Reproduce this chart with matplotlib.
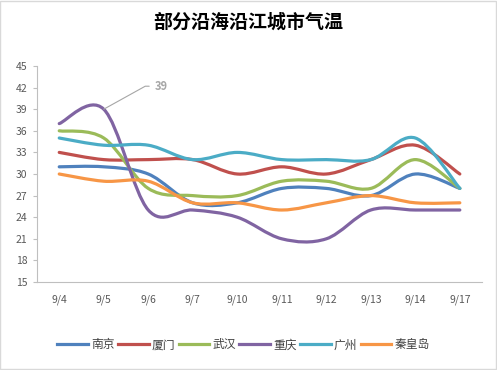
import matplotlib
matplotlib.use("Agg")
import matplotlib.pyplot as plt
from matplotlib.path import Path
from matplotlib.patches import PathPatch, Rectangle
from matplotlib.lines import Line2D
import numpy as np

plt.rcParams['font.family'] = ['Noto Sans CJK SC', 'DejaVu Sans']

dates = ["9/4", "9/5", "9/6", "9/7", "9/10", "9/11", "9/12", "9/13", "9/14", "9/17"]
nanjing = [31, 31, 30, 26, 26, 28, 28, 27, 30, 28]
xiamen = [33, 32, 32, 32, 30, 31, 30, 32, 34, 30]
wuhan = [36, 35, 28, 27, 27, 29, 29, 28, 32, 28]
chongqing = [37, 39, 25, 25, 24, 21, 21, 25, 25, 25]
guangzhou = [35, 34, 34, 32, 33, 32, 32, 32, 35, 28]
qinhuangdao = [30, 29, 29, 26, 26, 25, 26, 27, 26, 26]

cities = ["南京", "厦门", "武汉", "重庆", "广州", "秦皇岛"]
series = [nanjing, xiamen, wuhan, chongqing, guangzhou, qinhuangdao]
colors = ["#4F81BD", "#C0504D", "#9BBB59", "#8064A2", "#4BACC6", "#F79646"]


def smooth_path(xs, ys):
    # excel-like smoothed line as cubic bezier segments
    p = np.column_stack([xs, ys]).astype(float)
    n = len(p)
    verts = [p[0]]
    codes = [Path.MOVETO]
    for i in range(n - 1):
        p0 = p[i - 1] if i > 0 else p[i]
        p3 = p[i + 2] if i + 2 < n else p[i + 1]
        c1 = p[i] + (p[i + 1] - p0) / 6
        c2 = p[i + 1] - (p3 - p[i]) / 6
        verts += [c1, c2, p[i + 1]]
        codes += [Path.CURVE4] * 3
    return Path(verts, codes)


fig = plt.figure(figsize=(4.97, 3.70), dpi=100)
ax = fig.add_axes([0.0744, 0.2378, 0.8956, 0.5838])

x = np.arange(len(dates))
for vals, c in zip(series, colors):
    ax.add_patch(PathPatch(smooth_path(x, vals), facecolor="none", edgecolor=c,
                           lw=2.3, capstyle="round", joinstyle="round"))

ax.set_xlim(-0.5, len(dates) - 0.5)
ax.set_ylim(15, 45)
ax.set_yticks(range(15, 46, 3))
ax.set_xticks(x)
ax.set_xticklabels(dates)

for s in ["top", "right"]:
    ax.spines[s].set_visible(False)
for s in ["left", "bottom"]:
    ax.spines[s].set_color("#BFBFBF")
    ax.spines[s].set_linewidth(0.8)
ax.tick_params(axis="y", length=3, color="#BFBFBF", labelsize=7.5, labelcolor="#595959", pad=4)
ax.tick_params(axis="x", length=0, labelsize=7.5, labelcolor="#595959", pad=9)

ax.annotate("39", xy=(1, 39), xytext=(51, 23), textcoords="offset pixels",
            fontsize=8, fontweight="bold", color="#A6A6A6", va="center", ha="left",
            arrowprops=dict(arrowstyle="-", color="#A6A6A6", lw=0.8,
                            connectionstyle="angle,angleA=0,angleB=29,rad=0",
                            shrinkA=2, shrinkB=0))

fig.text(0.5, 0.94, "部分沿海沿江城市气温", ha="center", va="center",
         fontsize=13.7, fontweight="bold")

handles = [Line2D([], [], color=c, lw=2.3) for c in colors]
fig.legend(handles, cities, loc="center", bbox_to_anchor=(0.49, 0.068), ncol=6,
           frameon=False, fontsize=8.5, handlelength=2.6, handletextpad=0.25,
           columnspacing=0.3, labelcolor="#404040")

fig.patches.append(Rectangle((0.001, 0.002), 0.997, 0.996, transform=fig.transFigure,
                             fill=False, edgecolor="#D9D9D9", lw=1))

fig.savefig("out.png", dpi=100)
